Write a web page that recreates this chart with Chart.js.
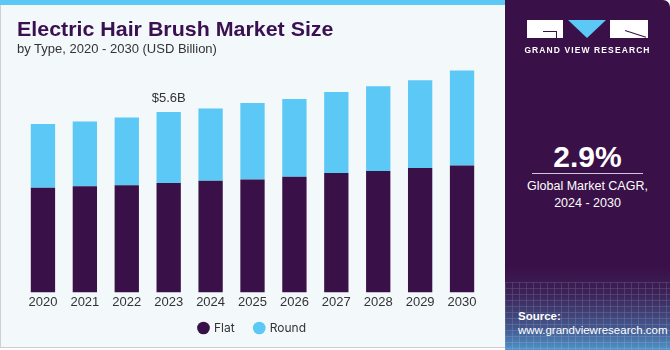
<!DOCTYPE html>
<html>
<head>
<meta charset="utf-8">
<script src="https://cdn.jsdelivr.net/npm/chart.js@4.4.1/dist/chart.umd.min.js"></script>
<style>
  html, body { margin: 0; padding: 0; }
  body { width: 670px; height: 350px; position: relative; overflow: hidden; background: #fff; font-family: "Liberation Sans", Arial, sans-serif; }
  #card { position: absolute; left: 0; top: 0; width: 505px; height: 348px; background: #f3f8fb; border-left: 1px solid #d0d0d0; border-bottom: 1px solid #cfcfcf; box-sizing: border-box; }
  #stripe { position: absolute; left: 0; top: 0; width: 505px; height: 5px; background: #5bc8f5; }
  #title { position: absolute; left: 17px; top: 17px; font-size: 21px; font-weight: bold; color: #3a1050; white-space: nowrap; transform-origin: left top; }
  #sub { position: absolute; left: 17px; top: 41px; font-size: 13px; color: #333; white-space: nowrap; }
  #chartBox { position: absolute; left: 0; top: 0; width: 505px; height: 345px; }
  #panel { position: absolute; left: 505px; top: 0; width: 165px; height: 350px; border-top-right-radius: 7px; overflow: hidden;
    background: linear-gradient(to bottom, #3a1048 0%, #3a1048 76%, #3b2358 84%, #43598f 94%, #4f93c8 100%); color: #fff; }
  #grid { position: absolute; left: 0; top: 282px; width: 165px; height: 68px; opacity: 0.2;
    background-image: linear-gradient(to right, rgba(255,255,255,0.6) 1px, transparent 1px), linear-gradient(to bottom, rgba(255,255,255,0.6) 1px, transparent 1px);
    background-size: 7px 6px; }
  .lg { position: absolute; background: #fff; }
  #tri { position: absolute; left: 63px; top: 20px; width: 0; height: 0; border-left: 19px solid transparent; border-right: 19px solid transparent; border-top: 18px solid #5bc8f5; }
  #gvr { position: absolute; left: 0; width: 165px; top: 45px; text-align: center; font-size: 8.5px; font-weight: bold; letter-spacing: 1.1px; }
  #cagr { position: absolute; left: 0; width: 165px; top: 140px; text-align: center; font-size: 30px; font-weight: bold; }
  #rule { position: absolute; left: 27px; width: 111px; top: 173px; height: 1px; background: #cfc6d8; }
  #cagrTxt { position: absolute; left: 0; width: 165px; top: 178px; text-align: center; font-size: 12.5px; line-height: 17px; }
  #src { position: absolute; left: 13px; top: 309px; font-size: 11.5px; line-height: 14px; }
</style>
</head>
<body>
<div id="card"></div>
<div id="stripe"></div>
<div id="chartBox"><canvas id="bar-chart"></canvas></div>
<div id="title">Electric Hair Brush Market Size</div>
<div id="sub">by Type, 2020 - 2030 (USD Billion)</div>
<div id="panel">
  <div id="grid"></div>
  <div class="lg" style="left:22px;top:20px;width:36px;height:18px;"></div>
  <div style="position:absolute;left:38px;top:31px;width:13px;height:1px;background:#3a1048;"></div>
  <div style="position:absolute;left:51px;top:31px;width:1px;height:7px;background:#3a1048;"></div>
  <div id="tri"></div>
  <div class="lg" style="left:105px;top:20px;width:38px;height:18px;"></div>
  <div style="position:absolute;left:120px;top:30px;width:22px;height:1px;background:#3a1048;transform:rotate(18deg);transform-origin:left center;"></div>
  <div id="gvr">GRAND VIEW RESEARCH</div>
  <div id="cagr">2.9%</div>
  <div id="rule"></div>
  <div id="cagrTxt">Global Market CAGR,<br>2024 - 2030</div>
  <div id="src"><b>Source:</b><br>www.grandviewresearch.com</div>
</div>
<script>
const years = ['2020', '2021', '2022', '2023', '2024', '2025', '2026', '2027', '2028', '2029', '2030'];
const flat = [3.25, 3.30, 3.33, 3.40, 3.47, 3.51, 3.59, 3.71, 3.77, 3.86, 3.94];
const round = [1.98, 2.01, 2.10, 2.20, 2.24, 2.37, 2.42, 2.51, 2.63, 2.73, 2.95];
const labelYear = '2023';
const labelText = '$5.6B';

// fit title to the reference width
const t = document.getElementById('title');
t.style.transform = 'scaleX(' + (316 / t.offsetWidth) + ')';

const totalLabel = {
    id: 'totalLabel',
    afterDatasetsDraw(chart) {
        const i = years.indexOf(labelYear);
        const meta = chart.getDatasetMeta(1);
        const bar = meta.data[i];
        const ctx = chart.ctx;
        ctx.save();
        ctx.font = '13px "Liberation Sans", Arial, sans-serif';
        ctx.fillStyle = '#333';
        ctx.textAlign = 'center';
        ctx.textBaseline = 'bottom';
        ctx.fillText(labelText, bar.x, bar.y - 7);
        ctx.restore();
    }
};

const ctx = document.getElementById('bar-chart').getContext('2d');
const chart = new Chart(ctx, {
    type: 'bar',
    data: {
        labels: years,
        datasets: [{
            label: 'Flat',
            data: flat,
            backgroundColor: '#3a1048',
            barPercentage: 0.58,
            categoryPercentage: 1
        }, {
            label: 'Round',
            data: round,
            backgroundColor: '#5bc8f5',
            barPercentage: 0.58,
            categoryPercentage: 1
        }]
    },
    options: {
        responsive: true,
        maintainAspectRatio: false,
        animation: false,
        layout: { padding: { top: 67, left: 22, right: 22, bottom: 1 } },
        scales: {
            x: {
                stacked: true,
                grid: { display: false, drawTicks: false },
                border: { display: false },
                ticks: { color: '#333', font: { size: 13, family: '"Liberation Sans", Arial, sans-serif' }, padding: 2 }
            },
            y: {
                stacked: true,
                display: false,
                min: 0,
                max: 7
            }
        },
        plugins: {
            legend: {
                position: 'bottom',
                labels: {
                    usePointStyle: true,
                    pointStyle: 'circle',
                    boxWidth: 9,
                    boxHeight: 9,
                    padding: 10,
                    color: '#333',
                    font: { size: 12, family: 'Inter, "Liberation Sans", sans-serif' },
                    generateLabels(chart) {
                        const items = Chart.defaults.plugins.legend.labels.generateLabels(chart);
                        items[0].text = items[0].text + '   ';
                        return items;
                    }
                }
            },
            tooltip: { enabled: false }
        }
    },
    plugins: [totalLabel]
});
</script>
</body>
</html>
